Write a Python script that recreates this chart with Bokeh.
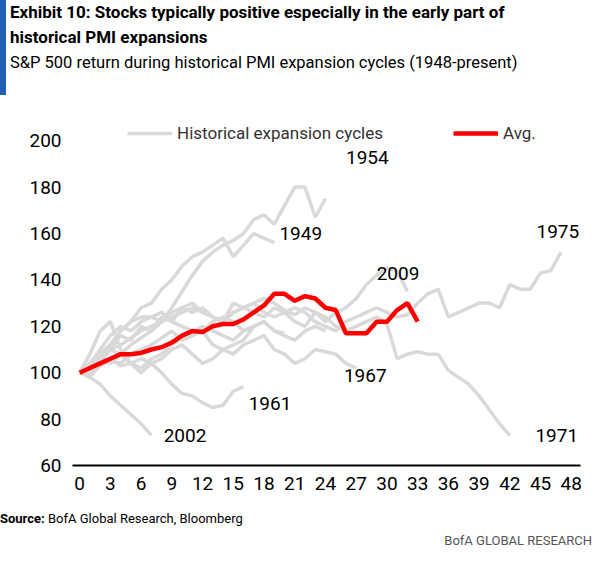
from bokeh.plotting import figure
from bokeh.models import Div, Legend, LegendItem, FixedTicker, Label
from bokeh.layouts import column
from bokeh.embed import file_html
from bokeh.resources import INLINE

avg = [100,102,104,106,108,108,108.5,110,111,113,116,118,117.5,120,121,121,123,126,129,134,134,131,133,132,128,127,117,117,117,122,122,127,130,122]

cycles = {
 "1954": [100,103,106,104,108,112,115,118,122,128,135,142,148,152,155,157,160,166,168,164,172,180,180,167,175],
 "1949": [100,104,108,112,118,122,128,130,136,140,146,150,152,155,158,150,155,160,158,156],
 "2009": [100,98,104,110,116,114,120,118,124,122,128,126,128,124,122,130,128,126,124,128,126,122,120,126,122,126,128,132,138,142,145,144,135],
 "1975": [100,104,110,116,120,118,122,124,122,126,128,130,126,124,122,126,128,130,126,124,126,128,126,122,120,118,122,124,126,128,126,124,125,130,134,136,124,126,128,130,130,128,138,136,136,143,144,152],
 "1971": [100,102,106,110,112,115,118,120,122,124,126,128,126,124,122,126,128,130,132,130,127,125,128,126,124,120,118,120,122,124,121,106,108,109,108,108,101,98,95,90,84,78,73],
 "1967": [100,101,103,105,104,108,110,112,115,118,114,116,118,112,110,108,112,114,116,110,108,104,106,110,109,108,104,102],
 "1961": [100,99,103,106,103,104,106,104,100,95,91,90,87,85,86,92,94],
 "2002": [100,98,95,90,86,82,78,73],
 "c1": [100,103,108,112,118,122,124,124,126,122,120,118,118,122,124,122,118,120,122,118,116,114,118,120,118],
 "c2": [100,104,106,110,108,104,102,106,108,112,115,117,120,118,116,114,118,120],
 "c3": [100,108,118,122,110,104,100,104,106,110,112,108,104,106,110,112,114,120,122,118,117],
}

x_ticks = list(range(0, 49, 3))
y_ticks = [60, 80, 100, 120, 140, 160, 180, 200]

F = "Roboto"
title = Div(text="<b>Exhibit 10: Stocks typically positive especially in the early part of<br>historical PMI expansions</b><br><span style='font-size:16.5px'>S&amp;P 500 return during historical PMI expansion cycles (1948-present)</span>",
            width=592, height=95,
            styles={"font-family": F, "font-size": "17px", "color": "#000",
                    "border-left": "6px solid #1f5fb4", "padding-left": "4px", "line-height": "25px", "margin": "0"})

p = figure(width=599, height=415, x_range=(-0.7, 48.9), y_range=(60, 210),
           output_backend="svg", toolbar_location=None,
           min_border_left=72, min_border_right=19, min_border_top=22, min_border_bottom=45)
p.outline_line_color = None
p.grid.visible = False
gr = "#d9d9d9"
lr = []
for k, v in cycles.items():
    lr.append(p.line(list(range(len(v))), v, line_color=gr, line_width=3.5))
ra = p.line(list(range(len(avg))), avg, line_color="#ff0000", line_width=4.5)

lab = {"1954": (26, 190), "1949": (19.5, 157), "2009": (29, 140), "1975": (44.6, 158), "1971": (44.5, 70),
       "1967": (25.8, 96), "1961": (16.5, 84), "2002": (8.2, 70)}
for t, (x, y) in lab.items():
    p.add_layout(Label(x=x, y=y, text=t, text_font=F, text_font_size="19px",
                       text_color="#000", text_align="left", text_baseline="bottom"))

leg = Legend(items=[LegendItem(label="Historical expansion cycles", renderers=[lr[0]]),
                    LegendItem(label="Avg.", renderers=[ra])],
             orientation="horizontal", location=(55, 322), border_line_color=None, background_fill_alpha=0,
             label_text_font=F, label_text_font_size="17px", label_text_color="#333",
             glyph_width=45, spacing=70, padding=0, margin=0)
p.add_layout(leg, "center")

p.xaxis.ticker = FixedTicker(ticks=x_ticks)
p.yaxis.ticker = FixedTicker(ticks=y_ticks)
for ax in (p.xaxis[0], p.yaxis[0]):
    ax.major_label_text_font = F
    ax.major_label_text_font_size = "19px"
    ax.major_label_text_color = "#000"
    ax.major_tick_line_color = None
    ax.minor_tick_line_color = None
p.yaxis.axis_line_color = None
p.xaxis.axis_line_color = "#000"
p.xaxis.axis_line_width = 2

src = Div(text="<b>Source:</b> BofA Global Research, Bloomberg",
          width=592, height=22,
          styles={"font-family": F, "font-size": "13px", "color": "#000", "margin": "0"})
brand = Div(text="BofA GLOBAL RESEARCH", width=592, height=20,
            styles={"font-family": F, "font-size": "13px", "color": "#555", "text-align": "right", "width": "592px", "margin": "0"})

layout = column(title, p, src, brand, spacing=0)
open("out.html", "w").write(file_html(layout, INLINE))
